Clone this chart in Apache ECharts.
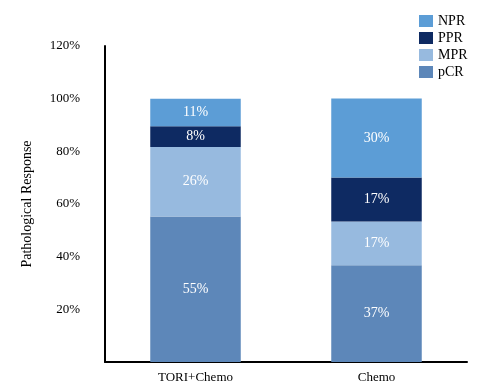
<!DOCTYPE html>
<html><head><meta charset="utf-8">
<script src="https://cdn.jsdelivr.net/npm/echarts@6/dist/echarts.min.js"></script>
<style>html,body{margin:0;padding:0;background:#fff}#c{width:495px;height:388px}</style>
</head><body><div id="c"></div>
<script>
const categories = ['TORI+Chemo', 'Chemo'];
const pCR = [55.3, 36.7];
const MPR = [26.3, 16.7];
const PPR = [7.9, 16.7];
const NPR = [10.5, 30.0];
const yTicks = [0, 20, 40, 60, 80, 100, 120];

const font = 'Liberation Serif, Times New Roman, serif';
const colors = { pCR: '#5d87b9', MPR: '#97badf', PPR: '#0e2a62', NPR: '#5c9dd6' };
function mk(name, data) {
  return {
    name, type: 'bar', stack: 'a', data, barWidth: '50%',
    itemStyle: { color: colors[name] },
    label: { show: true, position: 'inside', color: '#fff', fontFamily: font, fontSize: 14,
      formatter: p => Math.round(p.value) + '%' }
  };
}
const chart = echarts.init(document.getElementById('c'));
chart.setOption({
  animation: false,
  textStyle: { fontFamily: font },
  grid: { left: 105, right: 28, top: 46, bottom: 26 },
  legend: {
    data: ['NPR', 'PPR', 'MPR', 'pCR'], orient: 'vertical', left: 414, top: 9,
    icon: 'rect', itemWidth: 14, itemHeight: 12, itemGap: 3,
    textStyle: { fontFamily: font, fontSize: 14, color: '#000' }
  },
  xAxis: {
    type: 'category', data: categories,
    axisLine: { lineStyle: { color: '#000', width: 2 } },
    axisTick: { show: false },
    axisLabel: { color: '#000', fontFamily: font, fontSize: 13, margin: 9 }
  },
  yAxis: {
    type: 'value', min: yTicks[0], max: yTicks[yTicks.length - 1], interval: 20,
    name: 'Pathological Response', nameLocation: 'middle', nameGap: 71,
    nameTextStyle: { fontFamily: font, fontSize: 14, color: '#000' },
    axisLine: { show: true, lineStyle: { color: '#000', width: 2 } },
    axisTick: { show: false },
    splitLine: { show: false },
    axisLabel: { color: '#000', fontFamily: font, fontSize: 13, margin: 25,
      formatter: v => v === 0 ? '' : v + '%' }
  },
  series: [mk('pCR', pCR), mk('MPR', MPR), mk('PPR', PPR), mk('NPR', NPR)]
});
</script></body></html>
